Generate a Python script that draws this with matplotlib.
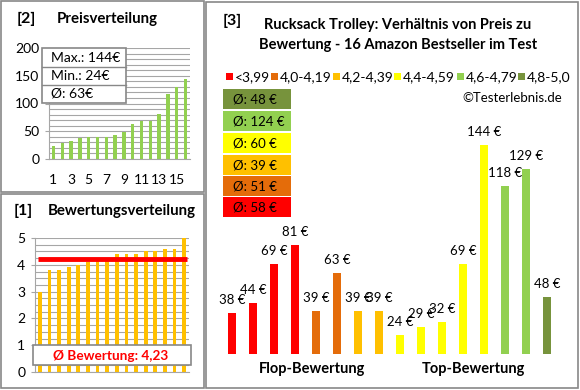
import matplotlib
matplotlib.use("Agg")
import matplotlib.pyplot as plt
from matplotlib.patches import Rectangle
from matplotlib.ticker import MultipleLocator

plt.rcParams["font.family"] = ["Lato", "DejaVu Sans"]

W, H = 580, 390

# sorted price distribution (top left)
prices_sorted = [24, 29, 32, 38, 39, 39, 39, 44, 48, 63, 69, 69, 81, 118, 129, 144]
price_ticks = [1, 3, 5, 7, 9, 11, 13, 15]
price_info = ["Max.: 144€", "Min.: 24€", "Ø: 63€"]

# sorted rating distribution (bottom left)
ratings_sorted = [3.0, 3.8, 3.8, 3.9, 4.0, 4.1, 4.2, 4.2,
                  4.4, 4.4, 4.4, 4.5, 4.5, 4.6, 4.6, 5.0]
rating_mean = 4.23
rating_label = "Ø Bewertung: 4,23"

# price vs rating (right)
prices = [38, 44, 69, 81, 39, 63, 39, 39, 24, 29, 32, 69, 144, 118, 129, 48]
groups = [0, 0, 0, 0, 1, 1, 2, 2, 3, 3, 3, 3, 3, 4, 4, 5]
group_labels = ["<3,99", "4,0-4,19", "4,2-4,39", "4,4-4,59", "4,6-4,79", "4,8-5,0"]
group_colors = ["#FF0000", "#E46C0A", "#FFC000", "#FFFF00", "#92D050", "#77933C"]
group_avgs = [58, 51, 39, 60, 124, 48]
cat_labels = ["Flop-Bewertung", "Top-Bewertung"]

GRID = "#A6A6A6"
BORDER = "#888888"

fig = plt.figure(figsize=(W / 100, H / 100), dpi=100)


def fx(x):
    return x / W


def fy(y):
    return 1 - y / H


def add_ax(x0, y0, x1, y1):
    return fig.add_axes([fx(x0), fy(y1), (x1 - x0) / W, (y1 - y0) / H])


def box(x0, y0, x1, y1, fc="none", ec=BORDER, lw=1.2, z=1):
    fig.patches.append(Rectangle((fx(x0), fy(y1)), (x1 - x0) / W, (y1 - y0) / H,
                                 transform=fig.transFigure, fc=fc, ec=ec, lw=lw,
                                 zorder=z))


def txt(x, y, s, **kw):
    fig.text(fx(x), fy(y), s, **kw)


# panel borders
box(1, 1, 204, 192)
box(1, 194, 204, 388)
box(206, 2, 578, 388)


def style_left(ax):
    for side in ["top", "right"]:
        ax.spines[side].set_visible(False)
    ax.spines["left"].set_color(GRID)
    ax.spines["bottom"].set_color(GRID)
    ax.grid(axis="y", which="both", color=GRID, lw=0.8)
    ax.set_axisbelow(True)
    ax.tick_params(axis="y", which="major", length=3, color=GRID, labelsize=10, pad=4)
    ax.tick_params(axis="y", which="minor", length=0)
    ax.tick_params(axis="x", length=0, labelsize=10)


# ---- [2] Preisverteilung
ax1 = add_ax(49, 48, 190, 159)
x = list(range(len(prices_sorted)))
ax1.bar(x, prices_sorted, width=0.38, color="#92D050")
ax1.set_xlim(-0.5, 15.5)
ax1.set_ylim(0, 200)
ax1.yaxis.set_major_locator(MultipleLocator(50))
ax1.yaxis.set_minor_locator(MultipleLocator(10))
ax1.set_xticks([t - 1 for t in price_ticks])
ax1.set_xticklabels([str(t) for t in price_ticks])
style_left(ax1)
ax1.tick_params(axis="x", pad=11)
txt(17, 19, "[2]", fontsize=11.5, fontweight="bold", va="center")
txt(57, 19, "Preisverteilung", fontsize=10.8, fontweight="bold", va="center")

box(42, 48, 126, 103, fc="white", z=3)
for yy in [67, 85]:
    fig.lines.append(plt.Line2D([fx(42), fx(126)], [fy(yy), fy(yy)],
                                transform=fig.transFigure, color=BORDER, lw=1, zorder=4))
for s, yy in zip(price_info, [58, 76, 94]):
    txt(51, yy, s, fontsize=10, va="center", zorder=5)

# ---- [1] Bewertungsverteilung
ax2 = add_ax(35, 238, 189, 372)
ax2.bar(x, ratings_sorted, width=0.38, color="#FFC000")
ax2.plot([-0.15, 15.25], [rating_mean, rating_mean], color="#FF0000", lw=3.5,
         solid_capstyle="butt")
ax2.set_xlim(-0.5, 15.5)
ax2.set_ylim(0, 5)
ax2.yaxis.set_major_locator(MultipleLocator(1))
ax2.yaxis.set_minor_locator(MultipleLocator(0.25))
ax2.set_xticks([])
style_left(ax2)
txt(14, 211, "[1]", fontsize=11.5, fontweight="bold", va="center")
txt(48, 211, "Bewertungsverteilung", fontsize=10.8, fontweight="bold", va="center")

box(33, 345, 191, 365, fc="white", z=3)
txt(111, 355.5, rating_label, fontsize=9.8, fontweight="bold", color="#FF0000",
    ha="center", va="center", zorder=5)

# ---- [3] Preis zu Bewertung
ax3 = add_ax(221.5, 120, 557.5, 354)
x3 = list(range(len(prices)))
cols = [group_colors[g] for g in groups]
ax3.bar(x3, prices, width=0.38, color=cols)
for xi, p in zip(x3, prices):
    ax3.annotate(f"{p} €", (xi, p), xytext=(0, 5), textcoords="offset points",
                 ha="center", va="bottom", fontsize=9.5)
ax3.set_xlim(-0.5, 15.5)
ax3.set_ylim(12, 160)
ax3.axis("off")
ax3.text(3.8, -0.035, cat_labels[0], transform=ax3.get_xaxis_transform(),
         ha="center", va="top", fontsize=10.5, fontweight="bold")
ax3.text(11.5, -0.035, cat_labels[1], transform=ax3.get_xaxis_transform(),
         ha="center", va="top", fontsize=10.5, fontweight="bold")

txt(223, 21, "[3]", fontsize=11.5, fontweight="bold", va="center")
txt(398, 25, "Rucksack Trolley: Verhältnis von Preis zu", fontsize=10.5,
    fontweight="bold", ha="center", va="center")
txt(398, 45, "Bewertung - 16 Amazon Bestseller im Test", fontsize=10.5,
    fontweight="bold", ha="center", va="center")

leg_x = [226, 271, 333, 394, 457, 518]
for lx, lab, c in zip(leg_x, group_labels, group_colors):
    box(lx, 73.5, lx + 6.5, 80, fc=c, ec="none", lw=0)
    txt(lx + 9, 77, lab, fontsize=10, va="center")

txt(562, 98, "©Testerlebnis.de", fontsize=9.5, ha="right", va="center")

box_top = [89, 111, 133, 155, 176, 197]
for i, yy in enumerate(box_top):
    g = len(group_avgs) - 1 - i
    box(223, yy, 291, yy + 20, fc=group_colors[g], ec="none", lw=0)
    txt(233, yy + 10.5, f"Ø: {group_avgs[g]} €", fontsize=9.5, va="center")

fig.savefig("out.png", dpi=100)
